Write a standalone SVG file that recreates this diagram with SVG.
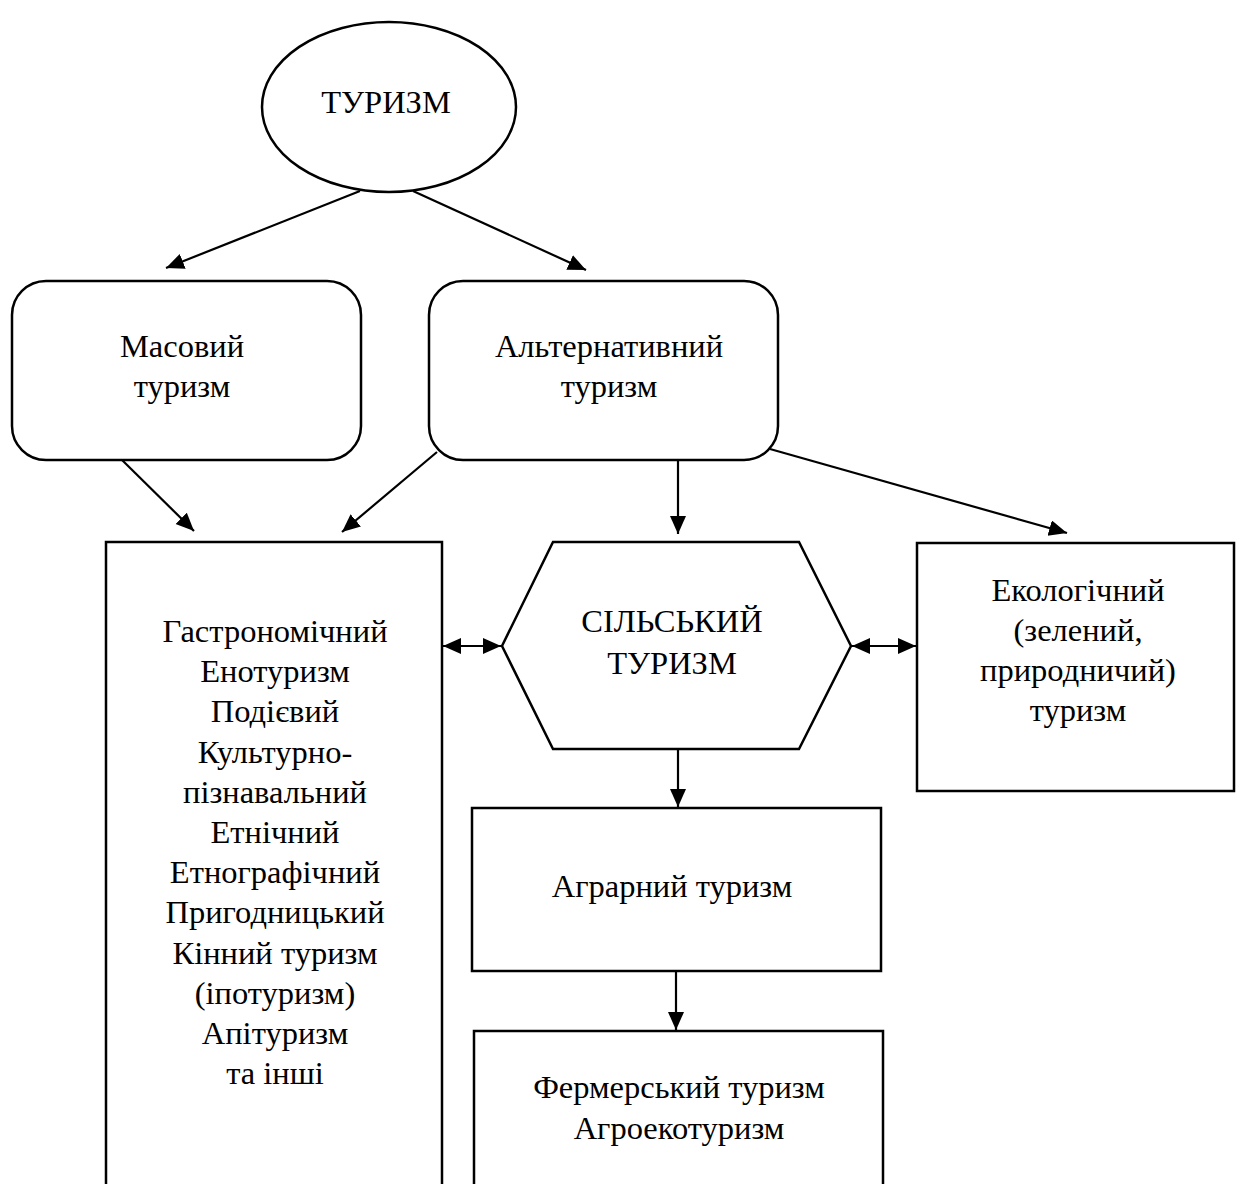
<svg xmlns="http://www.w3.org/2000/svg" width="1241" height="1184" viewBox="0 0 1241 1184">
  <style>
    .shape { fill: #ffffff; stroke: #000000; stroke-width: 2.5; }
    .label { font-family: "Liberation Serif", "Times New Roman", serif; font-size: 32.5px; fill: #000000; text-anchor: middle; }
    .edge { stroke: #000000; stroke-width: 2.2; fill: none; marker-end: url(#arrow); }
    .edge2 { stroke: #000000; stroke-width: 2.2; fill: none; marker-start: url(#arrow); marker-end: url(#arrow); }
  </style>
  <defs>
    <marker id="arrow" markerUnits="userSpaceOnUse" markerWidth="19" markerHeight="17" refX="18" refY="8" orient="auto-start-reverse">
      <path d="M0,0 L18,8 L0,16 Z" fill="#000000"/>
    </marker>
  </defs>

  <rect width="1241" height="1184" fill="#ffffff"/>

  <!-- connectors -->
  <g id="connectors">
    <line class="edge" x1="360" y1="191" x2="166" y2="268"/>
    <line class="edge" x1="413" y1="191" x2="586" y2="270"/>
    <line class="edge" x1="122" y1="460" x2="194" y2="531"/>
    <line class="edge" x1="437" y1="452" x2="342" y2="532"/>
    <line class="edge" x1="678" y1="460" x2="678" y2="534"/>
    <line class="edge" x1="770" y1="449" x2="1067" y2="533"/>
    <line class="edge2" x1="443" y1="646" x2="501" y2="646"/>
    <line class="edge2" x1="852" y1="646" x2="916" y2="646"/>
    <line class="edge" x1="678" y1="749" x2="678" y2="807"/>
    <line class="edge" x1="676" y1="971" x2="676" y2="1030"/>
  </g>

  <!-- top node -->
  <g id="tourism">
    <ellipse class="shape" cx="389" cy="107" rx="127" ry="85"/>
    <text class="label" x="386" y="113">ТУРИЗМ</text>
  </g>

  <g id="mass">
    <rect class="shape" x="12" y="281" width="349" height="179" rx="34" ry="34"/>
    <text class="label" x="182" y="357">Масовий</text>
    <text class="label" x="182" y="397">туризм</text>
  </g>

  <g id="alternative">
    <rect class="shape" x="429" y="281" width="349" height="179" rx="34" ry="34"/>
    <text class="label" x="609" y="357">Альтернативний</text>
    <text class="label" x="609" y="397">туризм</text>
  </g>

  <g id="kinds">
    <rect class="shape" x="106" y="542" width="336" height="700"/>
    <text class="label" x="275" y="642">Гастрономічний</text>
    <text class="label" x="275" y="682">Енотуризм</text>
    <text class="label" x="275" y="722">Подієвий</text>
    <text class="label" x="275" y="763">Культурно-</text>
    <text class="label" x="275" y="803">пізнавальний</text>
    <text class="label" x="275" y="843">Етнічний</text>
    <text class="label" x="275" y="883">Етнографічний</text>
    <text class="label" x="275" y="923">Пригодницький</text>
    <text class="label" x="275" y="964">Кінний туризм</text>
    <text class="label" x="275" y="1004">(іпотуризм)</text>
    <text class="label" x="275" y="1044">Апітуризм</text>
    <text class="label" x="275" y="1084">та інші</text>
  </g>

  <g id="rural">
    <polygon class="shape" points="553,542 799,542 851,646 799,749 553,749 502,646"/>
    <text class="label" x="672" y="632">СІЛЬСЬКИЙ</text>
    <text class="label" x="672" y="674">ТУРИЗМ</text>
  </g>

  <g id="ecological">
    <rect class="shape" x="917" y="543" width="317" height="248"/>
    <text class="label" x="1078" y="601">Екологічний</text>
    <text class="label" x="1078" y="641">(зелений,</text>
    <text class="label" x="1078" y="681">природничий)</text>
    <text class="label" x="1078" y="721">туризм</text>
  </g>

  <g id="agrarian">
    <rect class="shape" x="472" y="808" width="409" height="163"/>
    <text class="label" x="672" y="897">Аграрний туризм</text>
  </g>

  <g id="farm">
    <rect class="shape" x="474" y="1031" width="409" height="200"/>
    <text class="label" x="679" y="1098">Фермерський туризм</text>
    <text class="label" x="679" y="1139">Агроекотуризм</text>
  </g>
</svg>
